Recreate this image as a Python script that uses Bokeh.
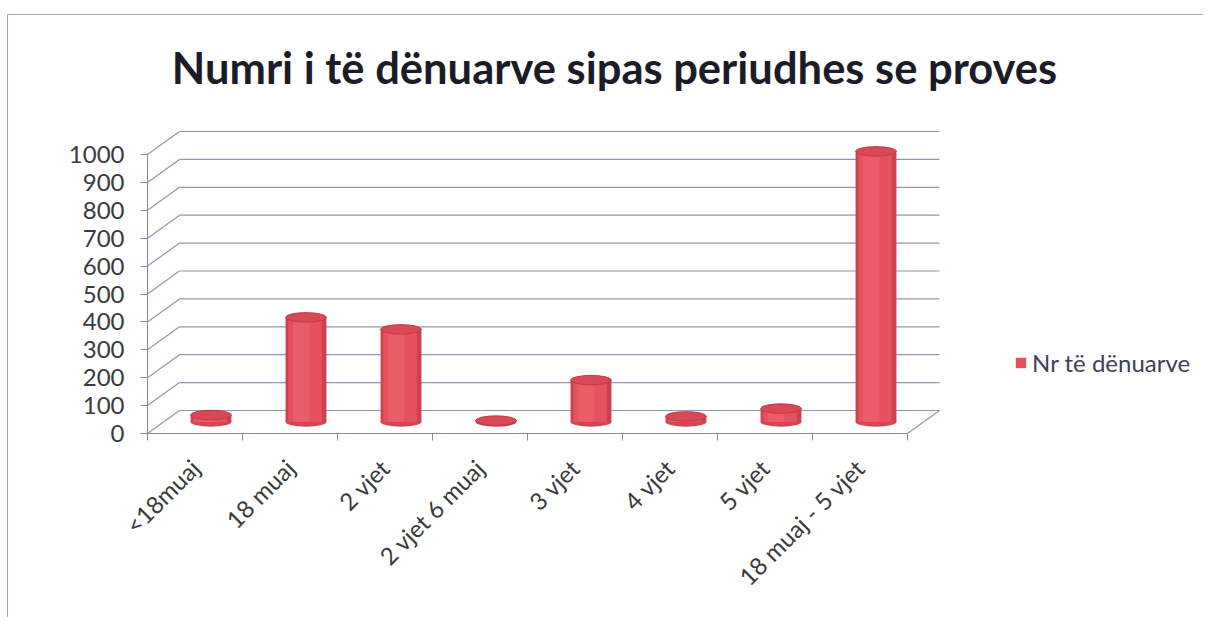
import math
from bokeh.plotting import figure
from bokeh.models import FixedTicker, Range1d, Legend, LegendItem, Label
from bokeh.embed import file_html
from bokeh.resources import INLINE

# ---- data ----
categories = ["<18muaj", "18 muaj", "2 vjet", "2 vjet 6 muaj", "3 vjet", "4 vjet", "5 vjet", "18 muaj - 5 vjet"]
values = [25, 375, 332, 5, 150, 20, 48, 970]
y_ticks = [0, 100, 200, 300, 400, 500, 600, 700, 800, 900, 1000]
series_name = "Nr të dënuarve"
title_text = "Numri i të dënuarve sipas periudhes se proves"

# ---- geometry / style ----
X_PX = 95.0          # pixels per category
Y_PX = 0.279         # pixels per value unit
FRAME_W, FRAME_H = 1056, 418
DX = 32 / X_PX       # depth offset (category units)
DY = 23 / Y_PX       # depth offset (value units)
BAR_W = 0.43
ELL_H = 34
GRID = "#9494b6"
AXIS = "#8686a8"
FONT = "Lato"

n = len(categories)
x_lo, x_hi = -0.5, n - 0.5
y_max = y_ticks[-1]

p = figure(output_backend="svg", toolbar_location=None,
           frame_width=FRAME_W, frame_height=FRAME_H,
           min_border_left=139, min_border_right=0,
           min_border_top=0, min_border_bottom=184,
           x_range=Range1d(x_lo, x_lo + FRAME_W / X_PX), y_range=Range1d(0, FRAME_H / Y_PX),
           background_fill_color="white", border_fill_color="white",
           outline_line_color=None)
p.styles = {"margin-top": "14px", "margin-left": "7px",
            "border-top": "1px solid #a4a4c4", "border-left": "1px solid #a4a4c4"}
p.xgrid.visible = False
p.ygrid.visible = False

# title (drawn inside the canvas for exact placement)
p.add_layout(Label(x=x_lo + 467 / X_PX, y=367 / Y_PX, text=title_text,
                   text_align="center", text_baseline="alphabetic",
                   text_font=FONT, text_font_size="43.5px", text_font_style="bold",
                   text_color="#1c1c28"))

# back wall gridlines
p.segment(x0=[x_lo + DX] * len(y_ticks), y0=[t + DY for t in y_ticks],
          x1=[x_hi + DX] * len(y_ticks), y1=[t + DY for t in y_ticks],
          line_color=GRID, line_width=1.2)
# side wall diagonals
p.segment(x0=[x_lo] * len(y_ticks), y0=y_ticks,
          x1=[x_lo + DX] * len(y_ticks), y1=[t + DY for t in y_ticks],
          line_color=GRID, line_width=1.2)
# floor right edge
p.segment(x0=[x_hi], y0=[0], x1=[x_hi + DX], y1=[DY], line_color=GRID, line_width=1.2)

# cylinders
cx = [i + DX / 2 for i in range(n)]
base = [DY / 2] * n
tops = [v + DY / 2 for v in values]
p.ellipse(x=cx, y=base, width=BAR_W, height=ELL_H, fill_color="#d44452", line_color=None)
p.vbar(x=cx, width=BAR_W, bottom=base, top=tops, fill_color="#cf404e", line_color=None)
main = p.vbar(x=[c - 0.01 for c in cx], width=BAR_W * 0.82, bottom=base, top=tops,
              fill_color="#e5525e", line_color=None)
p.vbar(x=[c - 0.05 for c in cx], width=BAR_W * 0.4, bottom=base, top=tops,
       fill_color="#ea5c67", line_color=None)
p.ellipse(x=cx, y=tops, width=BAR_W, height=ELL_H, fill_color="#d94856",
          line_color="#c43846", line_width=1)

# axes
yaxis = p.yaxis[0]
yaxis.ticker = FixedTicker(ticks=y_ticks)
yaxis.bounds = (0, y_max)
yaxis.axis_line_color = AXIS
yaxis.major_tick_line_color = AXIS
yaxis.major_tick_out = 7
yaxis.major_tick_in = 0
yaxis.minor_tick_line_color = None
yaxis.major_label_text_font = FONT
yaxis.major_label_text_font_size = "24px"
yaxis.major_label_text_color = "#3a3a3a"
yaxis.major_label_standoff = 16

xaxis = p.xaxis[0]
xaxis.ticker = FixedTicker(ticks=list(range(n)), minor_ticks=[x_lo + i for i in range(n + 1)])
xaxis.major_label_overrides = {i: c for i, c in enumerate(categories)}
xaxis.bounds = (x_lo, x_hi)
xaxis.axis_line_color = AXIS
xaxis.axis_line_width = 1.2
xaxis.major_tick_line_color = None
xaxis.minor_tick_line_color = AXIS
xaxis.minor_tick_out = 7
xaxis.minor_tick_in = 0
xaxis.major_label_orientation = math.pi / 4
xaxis.major_label_text_font = FONT
xaxis.major_label_text_font_size = "24px"
xaxis.major_label_text_color = "#3a3a3a"
xaxis.major_label_standoff = 23

legend = Legend(items=[LegendItem(label=series_name, renderers=[main])],
                location=(867, 56), border_line_color=None, background_fill_alpha=0,
                padding=0, margin=0, glyph_width=13, glyph_height=13, label_standoff=5,
                label_text_font=FONT, label_text_font_size="24px", label_text_color="#404058")
p.add_layout(legend, "center")

open("out.html", "w").write(file_html(p, INLINE))
